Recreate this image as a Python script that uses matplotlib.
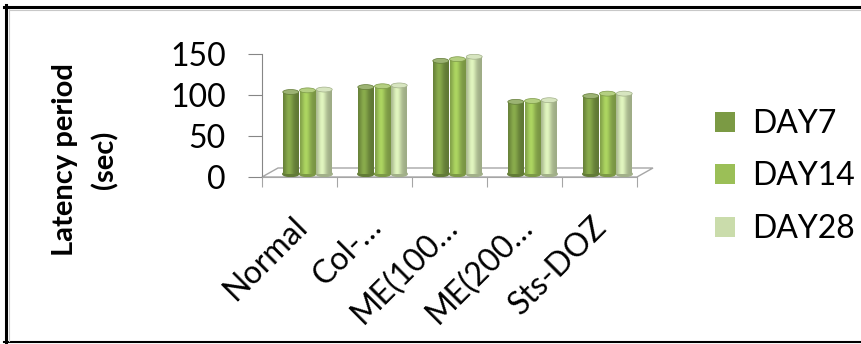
import numpy as np
import matplotlib.pyplot as plt
import matplotlib.colors as mcolors
from matplotlib.transforms import ScaledTranslation
from matplotlib.patches import Ellipse, Polygon
from matplotlib.lines import Line2D

groups = ['Normal', 'Col-…', 'ME(100…', 'ME(200…', 'Sts-DOZ']
series = ['DAY7', 'DAY14', 'DAY28']
day7 = [100, 106, 138, 88, 95]
day14 = [102, 107, 140, 89, 98]
day28 = [103, 108, 143, 90, 98]
colors = ['#7b9a44', '#9bbf57', '#cadcab']

plt.rcParams['font.family'] = ['Lato', 'DejaVu Sans']

W, H = 861, 344
fig = plt.figure(figsize=(W / 100, H / 100), dpi=100)
ax = fig.add_axes([262 / W, 167 / H, 375 / W, 123 / H])
ax.set_xlim(0, 5)
ax.set_ylim(0, 150)

# pseudo-3d: bars sit half way back on the floor
px = fig.dpi_scale_trans
bar_tr = ax.transData + ScaledTranslation(8 / 100, 3 / 100, px)

x = np.arange(len(groups)) + 0.5
bw = 0.213
cap_h = 6


def shade(base, n=64):
    t = np.linspace(0, 1, n)
    f = 0.78 + 0.34 * np.exp(-((t - 0.38) / 0.28) ** 2)
    rgb = np.array(mcolors.to_rgb(base))
    img = np.clip(rgb[None, :] * f[:, None], 0, 1)
    return img[None, :, :]


for k, (vals, c) in enumerate(zip([day7, day14, day28], colors)):
    xs = x + (k - 1) * (bw + 0.01)
    bars = ax.bar(xs, vals, bw, color=c, transform=bar_tr, zorder=3, lw=0)
    dark = np.clip(np.array(mcolors.to_rgb(c)) * 0.8, 0, 1)
    light = 0.75 * np.array(mcolors.to_rgb(c)) + 0.25
    for b, xc, v in zip(bars, xs, vals):
        im = ax.imshow(shade(c), extent=(xc - bw / 2, xc + bw / 2, 0, v),
                       aspect='auto', transform=bar_tr, zorder=3.1,
                       interpolation='bicubic')
        im.set_clip_path(b)
        ax.add_patch(Ellipse((xc, 0), bw, cap_h, color=dark, transform=bar_tr, zorder=2.9))
        ax.add_patch(Ellipse((xc, v), bw, cap_h, facecolor=light, edgecolor=dark,
                             lw=0.5, transform=bar_tr, zorder=3.2))

ax.set_xlim(0, 5)
ax.set_ylim(0, 150)

# floor outline
ax_w = 375 / 5
ddx, ddy = 16 / ax_w, 9 / (123 / 150)
ax.add_patch(Polygon([(0, 0), (5, 0), (5 + ddx, ddy), (ddx, ddy)], closed=True,
                     fill=False, edgecolor='#a6a6a6', lw=1, clip_on=False, zorder=1))

for s in ['top', 'right']:
    ax.spines[s].set_visible(False)
ax.spines['left'].set_color('#868686')
ax.spines['bottom'].set_color('#a6a6a6')
ax.set_facecolor('none')

ax.set_yticks([0, 50, 100, 150])
ax.tick_params(axis='y', direction='out', length=10, color='#868686',
               labelsize=23, pad=16)
ax.set_xticks(np.arange(6))
ax.set_xticklabels([])
ax.set_xticks(x, minor=True)
ax.set_xticklabels(groups, minor=True, rotation=45, ha='right',
                   rotation_mode='anchor', fontsize=23)
ax.tick_params(axis='x', which='major', direction='out', length=7, color='#a6a6a6')
ax.tick_params(axis='x', which='minor', length=0, pad=25)
for lab in ax.get_xticklabels(minor=True):
    lab.set_transform(lab.get_transform() + ScaledTranslation(-8 / 100, 0, px))

fig.text(85 / W, 1 - 160 / H, 'Latency period\n(sec)', rotation=90, ha='center',
         va='center', fontsize=21, fontweight='bold', linespacing=1.6,
         multialignment='center')

handles = [Line2D([], [], marker='s', ls='none', markersize=15, color=c,
                  markeredgewidth=0) for c in colors]
fig.legend(handles, series, loc='upper left', bbox_to_anchor=(711 / W, 1 - 109 / H),
           frameon=False, fontsize=23, handlelength=0.9, handletextpad=0.4,
           labelspacing=0.7, borderpad=0, borderaxespad=0)

# outer frame
fig.add_artist(Line2D([4 / W, 1], [1 - 6.5 / H] * 2, color='black', lw=2.2))
fig.add_artist(Line2D([5.5 / W] * 2, [1 - 5 / H, 1.5 / H], color='black', lw=2.2))
fig.add_artist(Line2D([4 / W, 1], [2 / H] * 2, color='black', lw=1.5))
fig.add_artist(Line2D([9 / W, 1], [1 - 9.5 / H] * 2, color='#c8c8c8', lw=0.8))
fig.add_artist(Line2D([9 / W] * 2, [1 - 9 / H, 3 / H], color='#c8c8c8', lw=0.8))

fig.savefig('out.png', dpi=100)
